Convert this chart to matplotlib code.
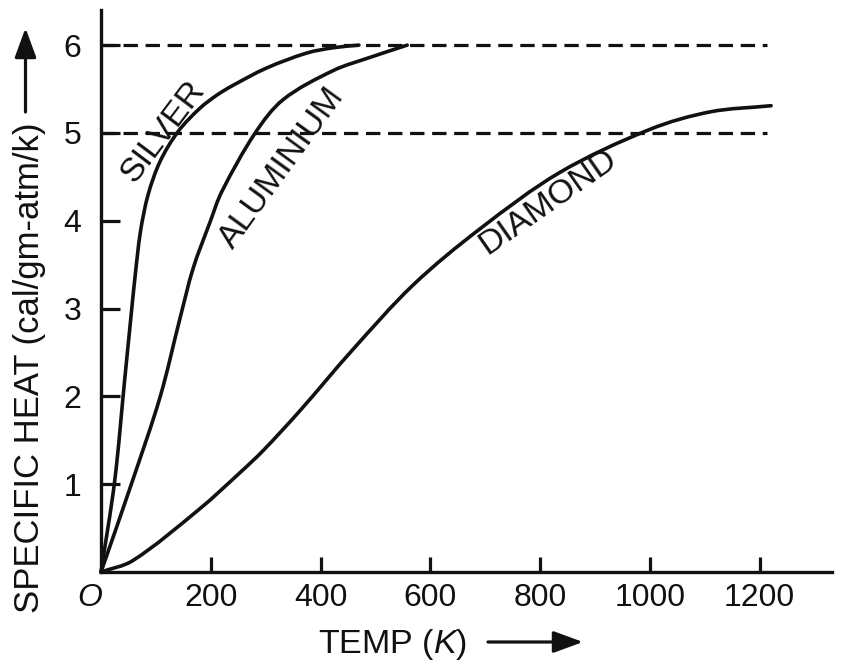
import matplotlib
matplotlib.use("Agg")
import matplotlib.pyplot as plt
from matplotlib.path import Path
from matplotlib.patches import PathPatch, FancyArrowPatch

plt.rcParams['font.family'] = ['Liberation Sans', 'DejaVu Sans']
plt.rcParams['mathtext.fontset'] = 'custom'
plt.rcParams['mathtext.rm'] = 'Liberation Sans'
plt.rcParams['mathtext.it'] = 'Liberation Sans:italic'

# ---- data ----
silver_T = [0, 25, 43, 54, 62, 72, 86, 108, 141, 180, 211, 240, 302, 375, 423, 470]
silver_C = [0, 1.04, 2.18, 2.87, 3.36, 3.88, 4.30, 4.68, 5.02, 5.28, 5.43, 5.54, 5.74, 5.91, 5.97, 6.0]

alum_T = [0, 58, 108, 144, 168, 199, 220, 281, 332, 423, 490, 558]
alum_C = [0, 1.05, 2.0, 2.89, 3.46, 3.99, 4.33, 5.0, 5.38, 5.71, 5.86, 6.0]

diam_T = [0, 58, 180, 253, 295, 363, 457, 569, 691, 836, 1000, 1110, 1221]
diam_C = [0, 0.13, 0.72, 1.13, 1.38, 1.84, 2.52, 3.27, 3.91, 4.55, 5.04, 5.24, 5.31]

dulong_petit = [6, 5]
dash_T_end = 1213

xticks = [200, 400, 600, 800, 1000, 1200]
yticks = [1, 2, 3, 4, 5, 6]

INK = '#111111'
XMAX, YMAX = 1332, 6.40
W, H = 844, 666
AX_W_PX, AX_H_PX = 731, 562


def smooth_path(xs, ys):
    """Smooth curve through the data points (chord-length Hermite as Bezier)."""
    sx, sy = AX_W_PX / XMAX, AX_H_PX / YMAX
    n = len(xs)
    t = [0.0]
    for i in range(1, n):
        d = ((sx * (xs[i] - xs[i - 1])) ** 2 + (sy * (ys[i] - ys[i - 1])) ** 2) ** 0.5
        t.append(t[-1] + max(d, 1e-6))
    m = []
    for i in range(n):
        a, b = max(i - 1, 0), min(i + 1, n - 1)
        dt = t[b] - t[a]
        m.append(((xs[b] - xs[a]) / dt, (ys[b] - ys[a]) / dt))
    verts = [(xs[0], ys[0])]
    codes = [Path.MOVETO]
    for i in range(n - 1):
        h = t[i + 1] - t[i]
        c1 = (xs[i] + m[i][0] * h / 3, ys[i] + m[i][1] * h / 3)
        c2 = (xs[i + 1] - m[i + 1][0] * h / 3, ys[i + 1] - m[i + 1][1] * h / 3)
        verts += [c1, c2, (xs[i + 1], ys[i + 1])]
        codes += [Path.CURVE4] * 3
    return Path(verts, codes)


fig = plt.figure(figsize=(8.44, 6.66), dpi=100)
ax = fig.add_axes([101 / W, 94 / H, AX_W_PX / W, AX_H_PX / H])
ax.set_xlim(0, XMAX)
ax.set_ylim(0, YMAX)

for s in ['top', 'right']:
    ax.spines[s].set_visible(False)
for s in ['left', 'bottom']:
    ax.spines[s].set_linewidth(2.4)
    ax.spines[s].set_color(INK)

ax.set_xticks(xticks)
ax.set_xticklabels([str(t) for t in xticks])
ax.set_yticks(yticks)
ax.set_yticklabels([str(t) for t in yticks])
ax.tick_params(axis='y', direction='in', length=14, width=2.3, pad=14,
               labelsize=23, colors=INK)
ax.tick_params(axis='x', direction='in', length=11, width=2.3, pad=8,
               labelsize=23, colors=INK)

# dashed Dulong-Petit lines
for v in dulong_petit:
    ax.plot([0, dash_T_end], [v, v], color=INK, lw=2.3,
            linestyle=(0, (4.5, 2.4)), solid_capstyle='butt')

# curves (smooth lines through the read points)
for T, C in [(silver_T, silver_C), (alum_T, alum_C), (diam_T, diam_C)]:
    ax.add_patch(PathPatch(smooth_path(T, C), facecolor='none',
                           edgecolor=INK, lw=2.6, capstyle='round',
                           joinstyle='round', clip_on=False))

# curve labels
lab_kw = dict(fontsize=24.5, color=INK, ha='center', va='center',
              rotation_mode='anchor')
ax.text(113, 5.01, 'SILVER', rotation=53, **lab_kw)
ax.text(330, 4.60, 'ALUMINIUM', rotation=54, **lab_kw)
ax.text(814, 4.21, 'DIAMOND', rotation=35, **lab_kw)

# origin label
ax.text(-20, -0.30, 'O', fontsize=23, style='italic', color=INK,
        ha='center', va='center', clip_on=False)

# axis labels (figure pixel positions)
fig.text(29.5 / W, 1 - 368 / H, 'SPECIFIC HEAT (cal/gm-atm/k)', rotation=90,
         fontsize=25, color=INK, ha='center', va='center')
fig.text(393 / W, 1 - 645 / H, r'TEMP ($\it{K}$)', fontsize=24.5, color=INK,
         ha='center', va='center')

arrow_kw = dict(arrowstyle='-|>,head_length=0.9,head_width=0.33',
                color=INK, lw=2.3, mutation_scale=20, shrinkA=0, shrinkB=0)
fig.add_artist(FancyArrowPatch(
    (25.5 / W, 1 - 112 / H), (25.5 / W, 1 - 28 / H),
    transform=fig.transFigure, **arrow_kw))
fig.add_artist(FancyArrowPatch(
    (488 / W, 1 - 642 / H), (583 / W, 1 - 642 / H),
    transform=fig.transFigure, **arrow_kw))

fig.savefig('out.png', dpi=100)
